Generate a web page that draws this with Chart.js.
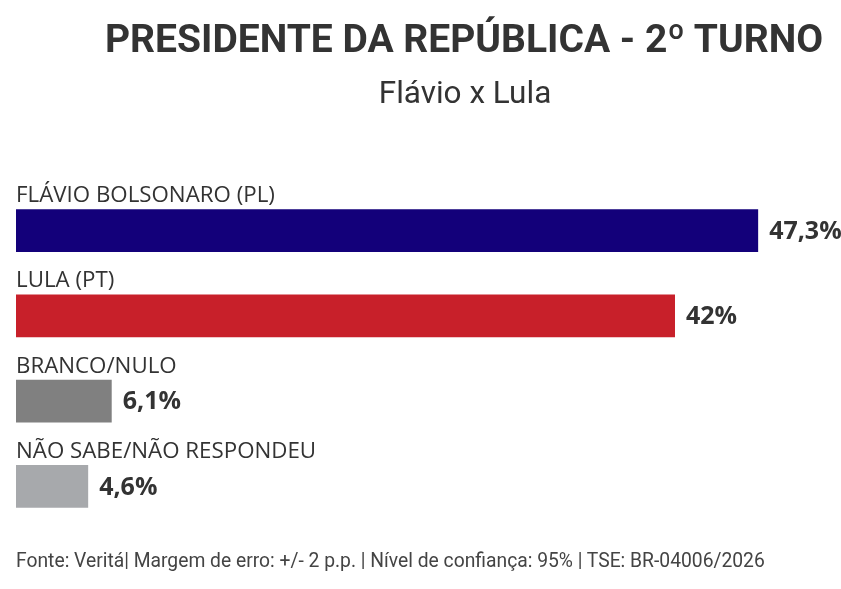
<!DOCTYPE html>
<html>
<head>
<meta charset="utf-8">
<script src="https://cdn.jsdelivr.net/npm/chart.js@4.4.1/dist/chart.umd.min.js"></script>
<style>
  html, body { margin: 0; padding: 0; background: #ffffff; overflow: hidden; }
  #wrap { position: relative; width: 841px; height: 589px; }
  #chartBox { position: absolute; left: 0; top: 0; width: 841px; height: 589px; }
  .txt { position: absolute; white-space: nowrap; color: #333333; }
  #title { left: 464px; transform: translateX(-50%); top: 20px; font: 700 39px/39px Roboto, "Open Sans", sans-serif; }
  #subtitle { left: 465px; transform: translateX(-50%); top: 77px; font: 400 31.5px/31.5px Roboto, "Open Sans", sans-serif; }
  #footer { left: 16px; top: 550.5px; font: 400 19.3px/19.3px Roboto, "Open Sans", sans-serif; color: #444444; }
</style>
</head>
<body>
<div id="wrap">
  <div id="chartBox"><canvas id="c"></canvas></div>
  <div class="txt" id="title">PRESIDENTE DA REPÚBLICA - 2º TURNO</div>
  <div class="txt" id="subtitle">Flávio x Lula</div>
  <div class="txt" id="footer">Fonte: Veritá| Margem de erro: +/- 2 p.p. | Nível de confiança: 95% | TSE: BR-04006/2026</div>
</div>
<script>
const categories = ['FLÁVIO BOLSONARO (PL)', 'LULA (PT)', 'BRANCO/NULO', 'NÃO SABE/NÃO RESPONDEU'];
const values = [47.3, 42, 6.1, 4.6];
const valueLabels = ['47,3%', '42%', '6,1%', '4,6%'];
const barColors = ['#13007A', '#C8202A', '#808080', '#A7A9AC'];

const labelPlugin = {
  id: 'barLabels',
  afterDatasetsDraw(chart) {
    const ctx = chart.ctx;
    const meta = chart.getDatasetMeta(0);
    ctx.save();
    meta.data.forEach((bar, i) => {
      const top = bar.y - bar.height / 2;
      ctx.fillStyle = '#333333';
      ctx.font = '400 22.3px "Open Sans", sans-serif';
      ctx.textAlign = 'left';
      ctx.textBaseline = 'alphabetic';
      ctx.fillText(chart.data.labels[i], chart.chartArea.left, top - 7);
      ctx.font = '700 25px "Open Sans", sans-serif';
      ctx.textBaseline = 'middle';
      ctx.fillText(valueLabels[i], bar.x + 11, bar.y + 1);
    });
    ctx.restore();
  }
};

new Chart(document.getElementById('c'), {
  type: 'bar',
  data: {
    labels: categories,
    datasets: [{
      data: values,
      backgroundColor: barColors,
      borderWidth: 0,
      barPercentage: 0.504,
      categoryPercentage: 1.0
    }]
  },
  options: {
    indexAxis: 'y',
    responsive: true,
    maintainAspectRatio: false,
    animation: false,
    layout: { padding: { left: 16, right: 0, top: 188, bottom: 60 } },
    scales: {
      x: { display: false, min: 0, max: 52.58 },
      y: { display: false }
    },
    plugins: {
      legend: { display: false },
      tooltip: { enabled: false },
      title: { display: false }
    }
  },
  plugins: [labelPlugin]
});
</script>
</body>
</html>
